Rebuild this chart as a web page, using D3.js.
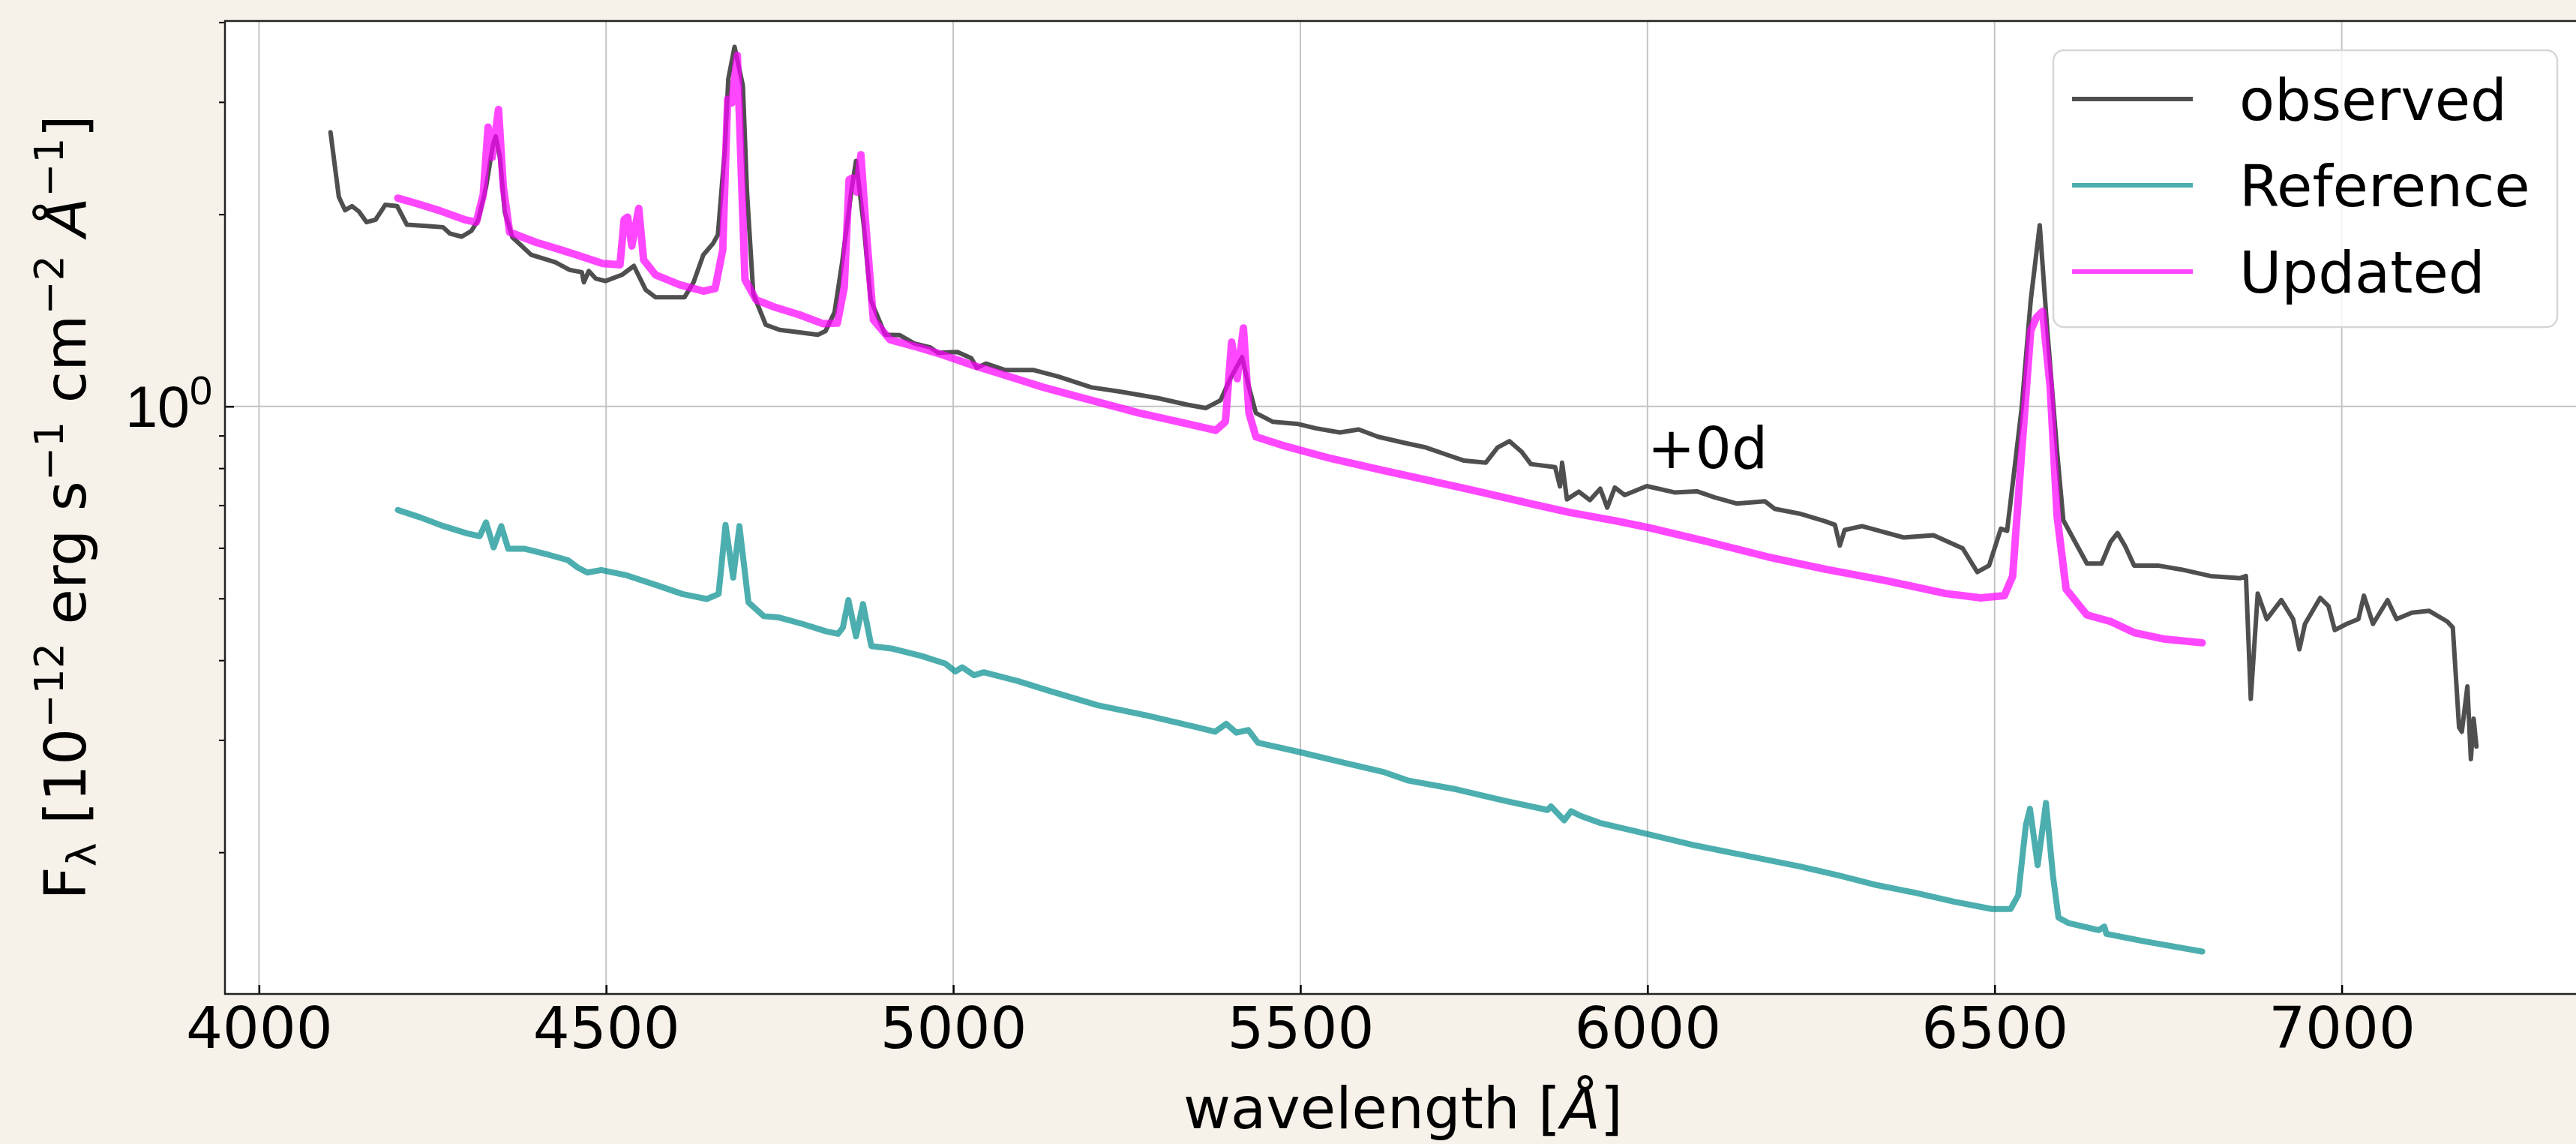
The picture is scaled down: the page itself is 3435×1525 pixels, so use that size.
<!DOCTYPE html>
<html><head><meta charset="utf-8">
<script src="https://cdn.jsdelivr.net/npm/d3@7"></script>
<style>
html,body{margin:0;padding:0;background:#f6f1e9;}
svg{display:block;font-family:"DejaVu Sans",sans-serif;}
</style>
</head><body>
<svg id="chart" width="3435" height="1525"></svg>
<script>
// ---------------- data ----------------
const seriesNames = ["observed", "Reference", "Updated"];

const observedWave = [4103,4115,4124,4134,4144,4155,4168,4182,4199,4213,4241,4265,4275,4292,4306,4316,4327,4337,4341,4347,4354,4365,4392,4427,4447,4465,4468,4475,4485,4499,4523,4540,4557,4571,4613,4626,4640,4654,4661,4671,4676,4685,4697,4703,4712,4730,4750,4778,4805,4816,4829,4840,4854,4860,4871,4881,4902,4923,4944,4967,4978,4991,5006,5026,5034,5047,5075,5116,5151,5199,5240,5295,5337,5364,5385,5399,5416,5426,5436,5460,5495,5522,5557,5584,5612,5653,5681,5708,5736,5767,5784,5801,5819,5832,5867,5874,5877,5884,5901,5917,5932,5942,5953,5967,5999,6039,6071,6097,6129,6169,6183,6219,6255,6270,6277,6284,6309,6327,6369,6412,6454,6475,6492,6509,6518,6539,6552,6565,6575,6590,6599,6616,6633,6654,6667,6677,6688,6701,6735,6769,6811,6854,6862,6869,6879,6892,6913,6930,6939,6947,6969,6981,6990,7007,7024,7032,7045,7066,7079,7101,7126,7152,7160,7169,7173,7181,7186,7190,7194];
const observedFlux = [2.69,2.13,2.03,2.06,2.02,1.944,1.962,2.07,2.06,1.926,1.918,1.909,1.866,1.845,1.884,1.962,2.206,2.57,2.65,2.458,2.015,1.841,1.728,1.682,1.637,1.623,1.565,1.63,1.586,1.572,1.608,1.66,1.523,1.483,1.483,1.565,1.728,1.80,1.858,2.526,3.26,3.66,3.18,2.16,1.50,1.342,1.318,1.306,1.295,1.312,1.404,1.682,2.206,2.425,1.926,1.469,1.295,1.293,1.255,1.237,1.213,1.215,1.217,1.19,1.149,1.167,1.140,1.140,1.114,1.071,1.055,1.030,1.006,0.994,1.022,1.105,1.194,1.071,0.976,0.946,0.939,0.924,0.910,0.920,0.896,0.875,0.862,0.842,0.822,0.816,0.862,0.882,0.848,0.812,0.803,0.749,0.816,0.715,0.735,0.713,0.743,0.694,0.746,0.726,0.750,0.733,0.736,0.720,0.704,0.710,0.691,0.679,0.661,0.652,0.605,0.640,0.649,0.641,0.623,0.628,0.599,0.550,0.563,0.643,0.638,0.994,1.465,1.923,1.356,0.850,0.663,0.613,0.567,0.567,0.613,0.633,0.604,0.563,0.563,0.555,0.542,0.538,0.542,0.348,0.509,0.464,0.497,0.464,0.416,0.456,0.501,0.486,0.446,0.456,0.464,0.505,0.456,0.497,0.464,0.475,0.478,0.460,0.45,0.314,0.309,0.364,0.280,0.324,0.293];

const referenceWave = [4200,4232,4266,4300,4318,4327,4338,4349,4359,4383,4418,4445,4459,4473,4493,4528,4576,4610,4645,4662,4672,4683,4692,4705,4727,4748,4783,4817,4834,4841,4849,4860,4870,4882,4913,4955,4989,5003,5013,5030,5044,5093,5139,5208,5277,5346,5377,5393,5408,5425,5439,5500,5553,5621,5656,5725,5794,5856,5861,5880,5890,5904,5931,5999,6069,6138,6220,6275,6331,6386,6441,6496,6523,6534,6545,6551,6562,6574,6584,6592,6606,6650,6658,6661,6716,6799];
const referenceFlux = [0.688,0.670,0.649,0.632,0.626,0.658,0.601,0.649,0.598,0.598,0.585,0.574,0.559,0.549,0.554,0.544,0.523,0.508,0.499,0.508,0.652,0.539,0.649,0.493,0.469,0.467,0.456,0.444,0.440,0.45,0.497,0.436,0.490,0.421,0.417,0.406,0.395,0.384,0.39,0.379,0.383,0.371,0.358,0.340,0.328,0.315,0.309,0.318,0.308,0.311,0.297,0.287,0.278,0.267,0.259,0.251,0.241,0.233,0.236,0.2245,0.232,0.228,0.2225,0.2137,0.205,0.198,0.190,0.184,0.1776,0.1728,0.1674,0.1630,0.163,0.1713,0.2206,0.234,0.191,0.239,0.184,0.158,0.155,0.151,0.153,0.149,0.145,0.1398];

const updatedWave = [4200,4227,4261,4296,4313,4323,4330,4336,4345,4352,4361,4399,4434,4468,4495,4520,4526,4531,4537,4547,4554,4571,4606,4640,4657,4668,4675,4681,4689,4700,4716,4743,4778,4812,4833,4843,4850,4855,4861,4867,4874,4885,4909,4950,4984,5026,5061,5130,5199,5268,5337,5378,5392,5401,5409,5418,5426,5436,5474,5543,5612,5681,5750,5819,5888,5956,6003,6088,6173,6258,6344,6429,6480,6514,6526,6539,6552,6560,6569,6580,6590,6603,6633,6667,6701,6743,6799];
const updatedFlux = [2.12,2.080,2.025,1.962,1.944,2.147,2.74,2.458,2.92,2.206,1.875,1.808,1.760,1.713,1.675,1.667,1.962,1.98,1.784,2.043,1.697,1.608,1.551,1.516,1.53,1.76,3.03,2.99,3.55,1.58,1.469,1.430,1.392,1.348,1.35,1.537,2.266,2.28,2.166,2.48,1.926,1.367,1.272,1.237,1.205,1.162,1.131,1.071,1.022,0.976,0.939,0.917,0.946,1.261,1.105,1.327,0.976,0.896,0.869,0.829,0.797,0.767,0.738,0.709,0.682,0.661,0.645,0.613,0.581,0.555,0.533,0.509,0.501,0.505,0.542,0.850,1.314,1.377,1.409,1.074,0.673,0.517,0.471,0.460,0.442,0.432,0.426];

const xTicks = [4000,4500,5000,5500,6000,6500,7000];
const yMajorTicks = [1];
const yMinorTicks = [0.2,0.3,0.4,0.5,0.6,0.7,0.8,0.9,2,3,4];
const xDomain = [3951, 7345];
const yDomain = [0.11995, 4.018];
const annotation = {text: "+0d", wave: 6000, flux: 0.8};

// ---------------- layout & style ----------------
const W = 3435, H = 1525;
const plot = {left: 300, right: 3442, top: 28, bottom: 1325};
const FS = 77;
const colors = {observed: "#4f4f4f", Reference: "#008b8b", Updated: "#ff00ff"};
const opac = {observed: 1, Reference: 0.7, Updated: 0.72};
const widths = {observed: 6, Reference: 8, Updated: 10};

const svg = d3.select("#chart");
svg.append("rect").attr("width", W).attr("height", H).attr("fill", "#f6f1e9");
svg.append("rect").attr("x", plot.left).attr("y", plot.top)
  .attr("width", plot.right - plot.left).attr("height", plot.bottom - plot.top).attr("fill", "#ffffff");

const x = d3.scaleLinear().domain(xDomain).range([plot.left, plot.right]);
const y = d3.scaleLog().domain(yDomain).range([plot.bottom, plot.top]);

// grid
const grid = svg.append("g");
grid.selectAll(".gx").data(xTicks).join("line")
  .attr("x1", d => x(d)).attr("x2", d => x(d)).attr("y1", plot.top).attr("y2", plot.bottom)
  .attr("stroke", "#c4c4c4").attr("stroke-width", 2);
grid.selectAll(".gy").data(yMajorTicks).join("line")
  .attr("x1", plot.left).attr("x2", plot.right).attr("y1", d => y(d)).attr("y2", d => y(d))
  .attr("stroke", "#c4c4c4").attr("stroke-width", 2);

// clip
svg.append("clipPath").attr("id", "clip").append("rect")
  .attr("x", plot.left).attr("y", plot.top).attr("width", plot.right - plot.left).attr("height", plot.bottom - plot.top);

const series = [
  {name: "observed", wave: observedWave, flux: observedFlux},
  {name: "Reference", wave: referenceWave, flux: referenceFlux},
  {name: "Updated", wave: updatedWave, flux: updatedFlux}
];
const line = d3.line().x(d => x(d[0])).y(d => y(d[1]));
const lines = svg.append("g").attr("clip-path", "url(#clip)");
series.forEach(s => {
  const pts = s.wave.map((w, i) => [w, s.flux[i]]);
  lines.append("path").datum(pts).attr("d", line)
    .attr("fill", "none").attr("stroke", colors[s.name]).attr("stroke-opacity", opac[s.name])
    .attr("stroke-width", widths[s.name]).attr("stroke-linejoin", "round").attr("stroke-linecap", "round");
});

// annotation
svg.append("text").attr("x", x(annotation.wave)).attr("y", y(annotation.flux))
  .attr("font-size", 76).attr("fill", "#000").text(annotation.text);

// axes via d3
const xAxis = d3.axisBottom(x).tickValues(xTicks).tickSize(-12).tickPadding(0).tickFormat(d3.format("d"));
const gx = svg.append("g").attr("transform", `translate(0,${plot.bottom})`).call(xAxis);
gx.select(".domain").remove();
gx.selectAll(".tick line").attr("stroke", "#000").attr("stroke-width", 2.5);
gx.selectAll(".tick text").attr("font-size", FS).attr("font-family", "DejaVu Sans")
  .attr("fill", "#000").attr("dy", null).attr("y", 72).attr("dominant-baseline", "auto");

const yAxisMinor = d3.axisLeft(y).tickValues(yMinorTicks).tickSize(8).tickFormat("");
const gyMinor = svg.append("g").attr("transform", `translate(${plot.left},0)`).call(yAxisMinor);
gyMinor.select(".domain").remove();
gyMinor.selectAll(".tick line").attr("stroke", "#000").attr("stroke-width", 2);

const yAxisMajor = d3.axisLeft(y).tickValues(yMajorTicks).tickSize(-12).tickFormat("");
const gyMajor = svg.append("g").attr("transform", `translate(${plot.left},0)`).call(yAxisMajor);
gyMajor.select(".domain").remove();
gyMajor.selectAll(".tick line").attr("stroke", "#000").attr("stroke-width", 2.5);
gyMajor.selectAll(".tick").each(function(d) {
  const t = d3.select(this).append("text").attr("x", -17).attr("y", 27)
    .attr("text-anchor", "end").attr("font-size", FS).attr("fill", "#000");
  const e = Math.round(Math.log10(d));
  t.append("tspan").text("10");
  t.append("tspan").attr("font-size", 54).attr("dy", -30).text(String(e));
});

// frame
svg.append("rect").attr("x", plot.left).attr("y", plot.top)
  .attr("width", plot.right - plot.left).attr("height", plot.bottom - plot.top)
  .attr("fill", "none").attr("stroke", "#222").attr("stroke-width", 2.5);

// axis labels
const xl = svg.append("text").attr("x", (plot.left + plot.right) / 2).attr("y", 1504)
  .attr("text-anchor", "middle").attr("font-size", FS).attr("fill", "#000");
xl.append("tspan").text("wavelength [");
xl.append("tspan").attr("font-style", "italic").text("Å");
xl.append("tspan").text("]");

const yl = svg.append("text").attr("transform", `translate(114,${(plot.top + plot.bottom) / 2}) rotate(-90)`)
  .attr("text-anchor", "middle").attr("font-size", FS).attr("fill", "#000");
const segs = [
  {t: "F"}, {t: "λ", sub: true}, {t: " [10"}, {t: "−12", sup: true}, {t: " erg s"}, {t: "−1", sup: true},
  {t: " cm"}, {t: "−2", sup: true}, {t: " "}, {t: "Å", it: true}, {t: "−1", sup: true}, {t: "]"}
];
let shift = 0;
segs.forEach(s => {
  const target = s.sup ? -30 : (s.sub ? 14 : 0);
  const ts = yl.append("tspan").attr("dy", target - shift).text(s.t);
  shift = target;
  if (s.sup || s.sub) ts.attr("font-size", 54);
  if (s.it) ts.attr("font-style", "italic");
});

// legend
const leg = svg.append("g");
leg.append("rect").attr("x", 2738).attr("y", 67).attr("width", 672).attr("height", 369)
  .attr("rx", 14).attr("fill", "#ffffff").attr("fill-opacity", 0.8)
  .attr("stroke", "#d6d6d6").attr("stroke-width", 2.5);
seriesNames.forEach((n, i) => {
  const ly = 132 + i * 115;
  leg.append("line").attr("x1", 2763).attr("x2", 2924).attr("y1", ly).attr("y2", ly)
    .attr("stroke", colors[n]).attr("stroke-opacity", opac[n]).attr("stroke-width", 6);
  leg.append("text").attr("x", 2986).attr("y", ly + 28).attr("font-size", FS).attr("fill", "#000").text(n);
});
</script>
</body></html>
